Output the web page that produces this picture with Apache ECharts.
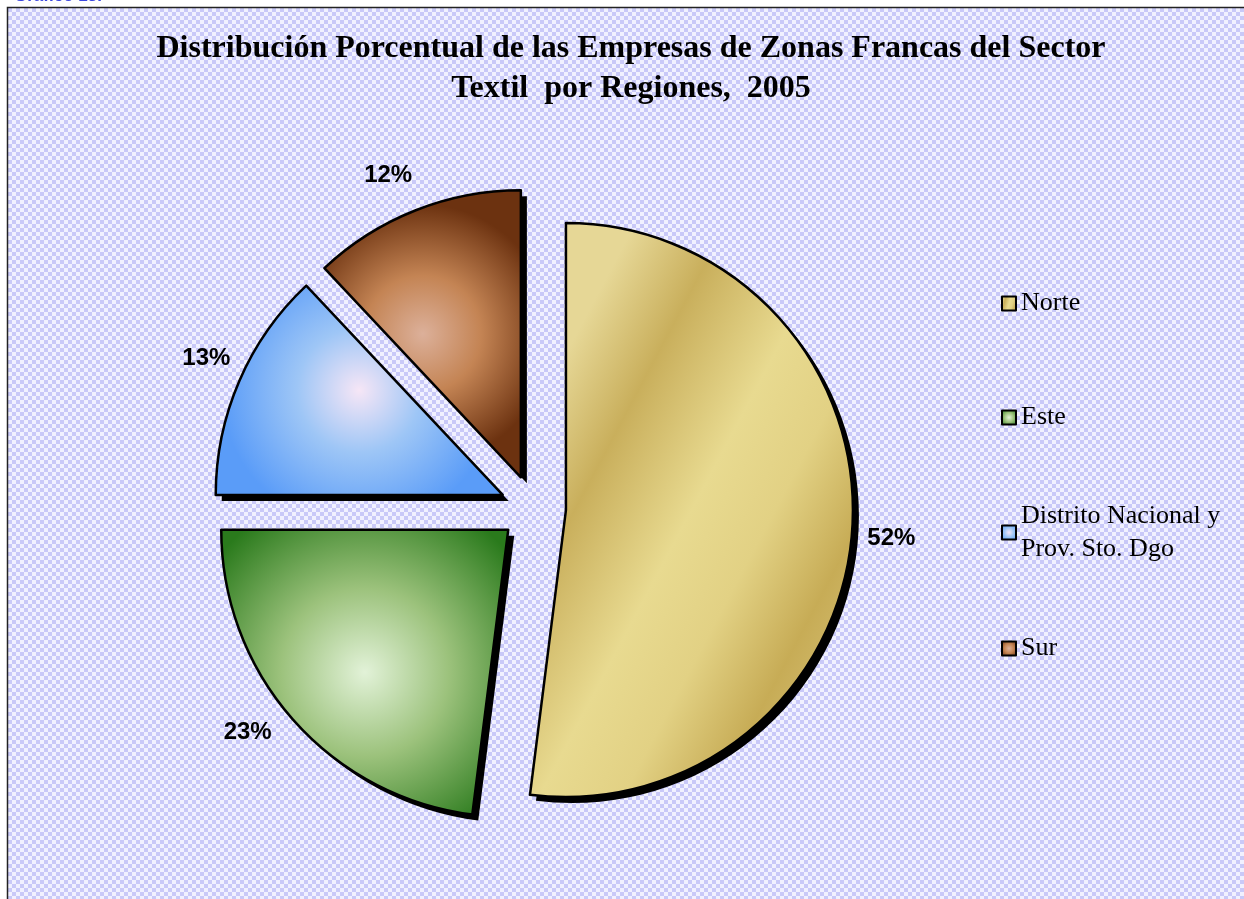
<!DOCTYPE html>
<html>
<head>
<meta charset="utf-8">
<title>Empresas de Zonas Francas - Sector Textil 2005</title>
<script src="https://cdn.jsdelivr.net/npm/echarts@6/dist/echarts.min.js"></script>
<style>
  html, body { margin: 0; padding: 0; background: #fff; }
  #chart { width: 1244px; height: 899px; }
</style>
</head>
<body>
<div id="chart"></div>
<script>
// datos del grafico
var regiones = ['Norte', 'Este', 'Distrito Nacional y\nProv. Sto. Dgo', 'Sur'];
var porcentajes = [52, 23, 13, 12];

// estilo de cada porcion
var gradientes = [
  new echarts.graphic.LinearGradient(0, 0.35, 1, 0.65, [
    {offset: 0, color: '#e6d796'},
    {offset: 0.22, color: '#c9af5c'},
    {offset: 0.5, color: '#e8da90'},
    {offset: 0.7, color: '#e2d184'},
    {offset: 0.92, color: '#c7ac56'},
    {offset: 1, color: '#cdb462'}
  ]),
  new echarts.graphic.RadialGradient(0.5, 0.5, 0.65, [
    {offset: 0, color: '#e2f2d8'},
    {offset: 0.45, color: '#9cc27c'},
    {offset: 1, color: '#2a7a1c'}
  ]),
  new echarts.graphic.RadialGradient(0.5, 0.5, 0.65, [
    {offset: 0, color: '#f6e6f6'},
    {offset: 0.45, color: '#9ec6f6'},
    {offset: 1, color: '#5a9cf8'}
  ]),
  new echarts.graphic.RadialGradient(0.5, 0.5, 0.65, [
    {offset: 0, color: '#dcb09a'},
    {offset: 0.45, color: '#c48454'},
    {offset: 1, color: '#6c3210'}
  ])
];
// largo de linea (invisible) para ubicar las etiquetas
var largoEtiqueta = [10, 19, 61, 38];
var largoEtiqueta2 = [0, 2, -52, -16];
var desplazaEtiquetaY = [10, 0, 2, 0];
// posicion de cada entrada de la leyenda
var leyendaTop = [287, 401, 483, 632];

// fondo a cuadros
function makePattern() {
  var c = document.createElement('canvas');
  c.width = 8; c.height = 8;
  var ctx = c.getContext('2d');
  ctx.fillStyle = '#f1f1ff';
  ctx.fillRect(0, 0, 8, 8);
  ctx.fillStyle = '#c9c9f8';
  ctx.fillRect(0, 0, 4, 4);
  ctx.fillRect(4, 4, 4, 4);
  return c;
}

var pieData = [];
var sombraData = [];
for (var i = 0; i < regiones.length; i++) {
  pieData.push({
    name: regiones[i],
    value: porcentajes[i],
    selected: true,
    itemStyle: {color: gradientes[i]},
    labelLine: {length: largoEtiqueta[i], length2: largoEtiqueta2[i]}
  });
  sombraData.push({name: regiones[i], value: porcentajes[i], selected: true});
}

var legends = [];
for (var j = 0; j < regiones.length; j++) {
  legends.push({
    data: [{
      name: regiones[j],
      textStyle: j == 2 ? {padding: [33, 0, 0, 0]} : {}
    }],
    orient: 'vertical',
    left: 1001,
    top: leyendaTop[j],
    padding: 0,
    selectedMode: false,
    icon: 'rect',
    itemWidth: 14,
    itemHeight: 14,
    itemGap: 6,
    itemStyle: {borderColor: '#000', borderWidth: 2, shadowBlur: 0, shadowOffsetX: 0, shadowOffsetY: 0},
    textStyle: {
      fontFamily: '"Times New Roman", "Liberation Serif", serif',
      fontSize: 26,
      lineHeight: 33,
      color: '#000'
    }
  });
}

var myChart = echarts.init(document.getElementById('chart'));
var option = {
  animation: false,
  graphic: [
    {
      type: 'rect',
      z: -10,
      shape: {x: 7.5, y: 7.5, width: 1300, height: 1000},
      style: {fill: {image: makePattern(), repeat: 'repeat'}, stroke: '#222', lineWidth: 1.5}
    },
    {
      type: 'text',
      z: -10,
      left: 14,
      top: -12,
      style: {text: 'Gráfico 13.', fill: '#3b46e0', font: 'bold 17px Arial, "Liberation Sans", sans-serif'}
    }
  ],
  title: {
    text: 'Distribución Porcentual de las Empresas de Zonas Francas del Sector\nTextil  por Regiones,  2005',
    left: 631,
    top: 29,
    padding: 0,
    textAlign: 'center',
    textStyle: {
      fontFamily: '"Times New Roman", "Liberation Serif", serif',
      fontWeight: 'bold',
      fontSize: 32,
      lineHeight: 40,
      color: '#000'
    }
  },
  legend: legends,
  series: [
    {
      type: 'pie',
      z: 2,
      center: [533, 508],
      radius: [0, 287],
      startAngle: 90,
      clockwise: true,
      selectedMode: 'multiple',
      selectedOffset: 33,
      avoidLabelOverlap: false,
      emphasis: {disabled: true},
      itemStyle: {
        borderColor: '#000',
        borderWidth: 2.5
      },
      select: {
        itemStyle: {borderColor: '#000', borderWidth: 2.5}
      },
      label: {
        show: true,
        position: 'outside',
        formatter: '{c}%',
        fontFamily: 'Arial, "Liberation Sans", sans-serif',
        fontWeight: 'bold',
        fontSize: 24,
        color: '#000'
      },
      labelLine: {show: false},
      labelLayout: function (params) {
        return {dy: desplazaEtiquetaY[params.dataIndex]};
      },
      data: pieData
    },
    {
      // sombra negra detras de cada porcion
      type: 'pie',
      name: 'sombra',
      z: 1,
      silent: true,
      center: [539, 514],
      radius: [0, 287],
      startAngle: 90,
      clockwise: true,
      selectedMode: 'multiple',
      selectedOffset: 33,
      emphasis: {disabled: true},
      itemStyle: {color: '#000', borderWidth: 0},
      select: {itemStyle: {color: '#000', borderWidth: 0}},
      label: {show: false},
      labelLine: {show: false},
      data: sombraData
    }
  ]
};
myChart.setOption(option);
</script>
</body>
</html>
